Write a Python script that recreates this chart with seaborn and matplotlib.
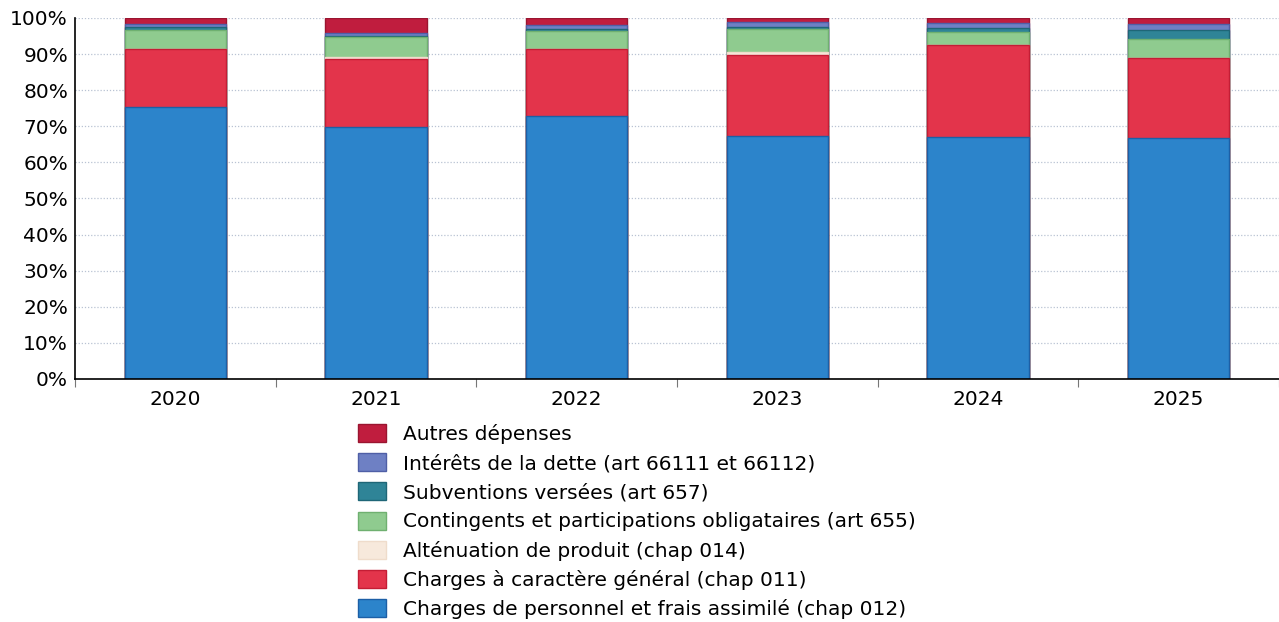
import numpy as np
import pandas as pd
import matplotlib
matplotlib.use("Agg")
import matplotlib.pyplot as plt
from matplotlib.patches import Patch
from matplotlib.ticker import FixedLocator, PercentFormatter
import seaborn as sns

# Share of operating expenses by category, in % of total, per year
years = ["2020", "2021", "2022", "2023", "2024", "2025"]

personnel = [75.3, 69.9, 72.9, 67.3, 67.1, 66.7]      # chap 012
charges_generales = [16.0, 18.7, 18.4, 22.5, 25.4, 22.1]  # chap 011
attenuation = [0.0, 0.7, 0.0, 0.8, 0.0, 0.0]         # chap 014
contingents = [5.5, 5.4, 5.2, 6.3, 3.7, 5.3]         # art 655
subventions = [0.6, 0.3, 0.5, 0.5, 0.9, 2.6]         # art 657
interets = [0.9, 0.9, 1.1, 1.4, 1.4, 1.6]            # art 66111 et 66112
autres = [1.7, 4.1, 1.9, 1.2, 1.5, 1.7]

labels = [
    "Charges de personnel et frais assimilé (chap 012)",
    "Charges à caractère général (chap 011)",
    "Alténuation de produit (chap 014)",
    "Contingents et participations obligataires (art 655)",
    "Subventions versées (art 657)",
    "Intérêts de la dette (art 66111 et 66112)",
    "Autres dépenses",
]
series = [personnel, charges_generales, attenuation, contingents,
          subventions, interets, autres]
colors = ["#2c84cb", "#e3344b", "#f7e9dc", "#8fcb8f",
          "#2f8497", "#6e80c4", "#c01d3e"]
edges = ["#1c5fa6", "#c41d35", "#efdccb", "#6fb070",
         "#1f6677", "#4f5fa6", "#9a1530"]

sns.set_theme(style="white")
plt.rcParams["font.family"] = ["DejaVu Sans"]

fig = plt.figure(figsize=(12.79, 6.22), dpi=100)
ax = fig.add_axes([0.0586, 0.3907, 0.9414, 0.5804])

values = pd.DataFrame(series, index=labels, columns=years)
cumulative = values.cumsum(axis=0)

# Draw cumulative totals from the top layer down so each segment overlays
for i in range(len(labels) - 1, -1, -1):
    df = pd.DataFrame({"annee": years, "part": cumulative.iloc[i].values})
    sns.barplot(data=df, x="annee", y="part", color=colors[i],
                saturation=1, width=0.505, edgecolor=edges[i],
                linewidth=1.0, ax=ax, zorder=2)

ax.set_ylim(0, 100)
ax.set_xlim(-0.5, len(years) - 0.5)
ax.yaxis.set_major_locator(FixedLocator(np.arange(0, 101, 10)))
ax.yaxis.set_major_formatter(PercentFormatter(decimals=0))
ax.grid(axis="y", color="#b9c3d3", linestyle=(0, (1, 1.5)), linewidth=0.9, zorder=0)
ax.set_axisbelow(True)

ax.set_xlabel("")
ax.set_ylabel("")
for side in ["top", "right"]:
    ax.spines[side].set_visible(False)
ax.spines["left"].set_color("black")
ax.spines["bottom"].set_color("black")
ax.spines["left"].set_linewidth(1.2)
ax.spines["bottom"].set_linewidth(1.2)

ax.tick_params(axis="y", labelsize=14.5, length=0, pad=5, labelcolor="black")
ax.tick_params(axis="x", which="major", labelsize=14.5, length=0, pad=8,
               labelcolor="black")
ax.xaxis.set_minor_locator(FixedLocator(np.arange(-0.5, len(years), 1.0)))
ax.tick_params(axis="x", which="minor", bottom=True, length=6, width=0.8,
               color="#777777")

order = list(range(len(labels) - 1, -1, -1))
handles = [Patch(facecolor=colors[i], edgecolor=edges[i], linewidth=1.0)
           for i in order]
leg = fig.legend(handles, [labels[i] for i in order],
                 loc="upper left", bbox_to_anchor=(0.2799, 0.318),
                 frameon=False, fontsize=14.5, handlelength=1.39,
                 handleheight=1.0, handletextpad=0.85, labelspacing=0.455,
                 borderaxespad=0, borderpad=0)
for t in leg.get_texts():
    t.set_color("black")

fig.savefig("out.png", dpi=100)
